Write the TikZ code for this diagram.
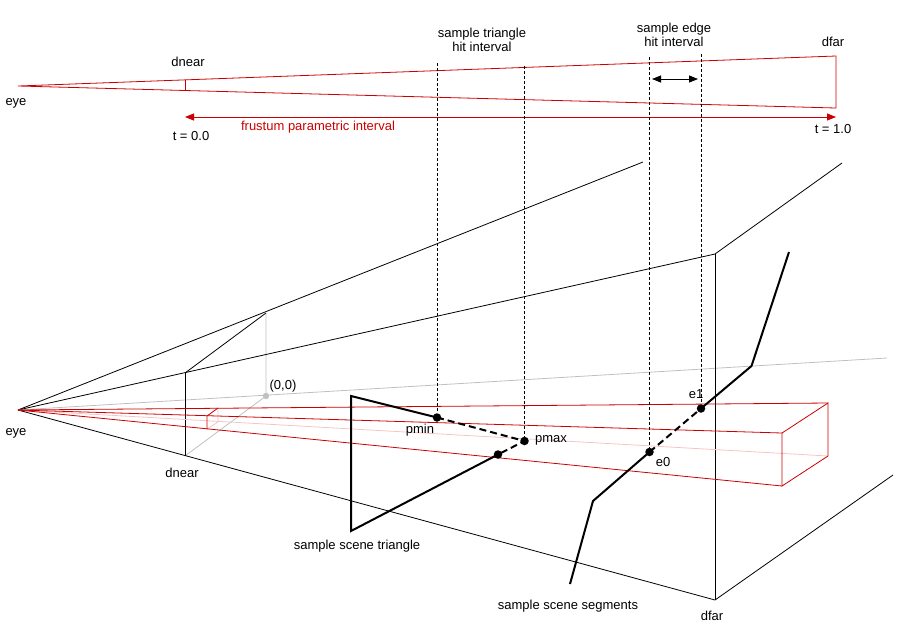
\documentclass[tikz,border=0pt]{standalone}
\usepackage{fontspec}
\setmainfont{Liberation Sans}
\usetikzlibrary{arrows.meta}
\definecolor{rayred}{RGB}{204,0,0}
\definecolor{hidpink}{RGB}{246,196,196}
\definecolor{hidgray}{RGB}{192,192,192}

\begin{document}
\begin{tikzpicture}[x=1pt,y=-1pt,line width=0.8pt,
        font=\fontsize{13}{14.5}\selectfont,
        redline/.style={rayred},
        hidline/.style={hidpink},
        grayline/.style={hidgray},
        hitline/.style={line width=0.75pt,dash pattern=on 3pt off 2pt},
        scene/.style={line width=2pt},
        scenehid/.style={line width=2pt,dash pattern=on 7pt off 4pt},
        hitdot/.style={circle,fill=black,inner sep=0pt,minimum size=8.5pt},
        lbl/.style={inner sep=0pt}]
    \useasboundingbox (0,0) rectangle (900,630);

    % top view of the frustum
    \coordinate (teye) at (18,86);
    \coordinate (tfartop) at (836,56);
    \coordinate (tfarbot) at (836,108);
    \coordinate (tneartop) at (185,80);
    \coordinate (tnearbot) at (185,90.5);
    \draw[redline] (teye)--(tfartop)--(tfarbot)--cycle;
    \draw[redline] (tneartop)--(tnearbot);
    \node[lbl] (teyelbl) at (16,103) {eye};
    \node[lbl] (tdnearlbl) at (188,62) {dnear};
    \node[lbl] (tdfarlbl) at (833,42) {dfar};

    \coordinate (tstart) at (185,117);
    \coordinate (tend) at (836,117);
    \draw[redline,{Triangle[length=9pt,width=7pt]}-{Triangle[length=9pt,width=7pt]}] (tstart)--(tend);
    \node[lbl,text=rayred] (frustlbl) at (318,127) {frustum parametric interval};
    \node[lbl] (t0lbl) at (191,136) {t = 0.0};
    \node[lbl] (t1lbl) at (833,129) {t = 1.0};

    \node[lbl,align=center] (trilbl) at (482,40) {sample triangle\\hit interval};
    \node[lbl,align=center] (edgelbl) at (674,35) {sample edge\\hit interval};
    \coordinate (edgel) at (652,79);
    \coordinate (edger) at (698,79);
    \draw[{Triangle[length=9pt,width=7pt]}-{Triangle[length=9pt,width=7pt]}] (edgel)--(edger);

    % perspective view of the frustum
    \coordinate (beye) at (18,410);
    \coordinate (ntf) at (185,373);
    \coordinate (ntb) at (266,313);
    \coordinate (nbf) at (185,456);
    \coordinate (orig) at (266,396);
    \coordinate (topend) at (643,162);
    \coordinate (ftf) at (715,254);
    \coordinate (ftb) at (842,163);
    \coordinate (fbf) at (715,600);
    \coordinate (fbb) at (893,475);
    \coordinate (grayend) at (887,358);

    \draw[grayline] (beye)--(grayend);
    \draw[grayline] (ntb)--(orig)--(nbf);
    \fill[hidgray] (orig) circle (3.2pt);
    \node[lbl] (origlbl) at (283,386) {(0,0)};

    \draw (beye)--(topend);
    \draw (beye)--(ftf)--(ftb);
    \draw (beye)--(fbf)--(fbb);
    \draw (ntf)--(ntb);
    \draw (ntf)--(nbf);
    \draw (ftf)--(fbf);

    % ray box
    \coordinate (nft) at (207,416);
    \coordinate (nfb) at (207,429);
    \coordinate (nbt) at (218,408);
    \coordinate (nbk) at (218,422);
    \coordinate (bft) at (782,433);
    \coordinate (bfb) at (782,486);
    \coordinate (bbt) at (828,403);
    \coordinate (bbb) at (828,456);
    \draw[hidline] (beye)--(bbb);
    \draw[hidline] (nbt)--(nbk)--(nfb);
    \draw[redline] (beye)--(bbt);
    \draw[redline] (beye)--(bft);
    \draw[redline] (beye)--(bfb);
    \draw[redline] (nfb)--(nft)--(nbt);
    \draw[redline] (bfb)--(bft)--(bbt)--(bbb)--cycle;

    \node[lbl] (beyelbl) at (16,433) {eye};
    \node[lbl] (bdnearlbl) at (182,473) {dnear};
    \node[lbl] (bdfarlbl) at (712,616) {dfar};

    % sample triangle
    \coordinate (triA) at (351,396);
    \coordinate (triB) at (351,531);
    \node[hitdot] (pmin) at (437,417.5) {};
    \node[hitdot] (pmax) at (524.5,441) {};
    \node[hitdot] (pexit) at (498,454.5) {};
    \draw[scene] (pmin.center)--(triA)--(triB)--(pexit.center);
    \draw[scenehid] (pmin.center)--(pmax.center)--(pexit.center);
    \node[lbl] (pminlbl) at (420,430) {pmin};
    \node[lbl] (pmaxlbl) at (551,440) {pmax};
    \node[lbl] (trisclbl) at (357,546) {sample scene triangle};

    % sample segments
    \coordinate (seg0) at (570,584);
    \coordinate (seg1) at (593,501);
    \node[hitdot] (e0) at (649.5,452) {};
    \node[hitdot] (e1) at (701,408.5) {};
    \coordinate (seg4) at (751.5,366);
    \coordinate (seg5) at (789,252);
    \draw[scene] (seg0)--(seg1)--(e0.center);
    \draw[scenehid] (e0.center)--(e1.center);
    \draw[scene] (e1.center)--(seg4)--(seg5);
    \node[lbl] (e0lbl) at (663,462) {e0};
    \node[lbl] (e1lbl) at (696,394) {e1};
    \node[lbl] (seglbl) at (568,606) {sample scene segments};

    % hit intervals
    \coordinate (tpmin) at (437,63);
    \coordinate (tpmax) at (524.5,66);
    \coordinate (te0) at (649.5,57);
    \coordinate (te1) at (701,54);
    \draw[hitline] (tpmin)--(pmin);
    \draw[hitline] (tpmax)--(pmax);
    \draw[hitline] (te0)--(e0);
    \draw[hitline] (te1)--(e1);
\end{tikzpicture}
\end{document}
